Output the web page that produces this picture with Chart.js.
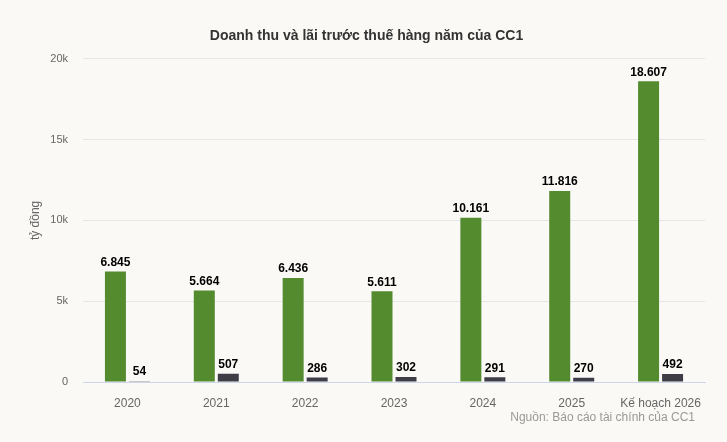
<!DOCTYPE html>
<html>
<head>
<meta charset="utf-8">
<script src="https://cdn.jsdelivr.net/npm/chart.js@4/dist/chart.umd.min.js"></script>
<style>
  html,body{margin:0;padding:0;background:#faf9f6;}
  #wrap{width:727px;height:442px;position:relative;}
</style>
</head>
<body>
<div id="wrap"><canvas id="chartCC1"></canvas></div>
<script>
// du lieu doc tu hinh
const categories = ['2020','2021','2022','2023','2024','2025','Kế hoạch 2026'];
const doanhThu   = [6845, 5664, 6436, 5611, 10161, 11816, 18607];
const laiTruocThue = [54, 507, 286, 302, 291, 270, 492];
const yTicks = [0, 5000, 10000, 15000, 20000];
const nguon = 'Nguồn: Báo cáo tài chính của CC1';

function fmtVN(v){
  return String(v).replace(/\B(?=(\d{3})+(?!\d))/g, '.');
}

// nhan gia tri tren dau cot
const valueLabels = {
  id: 'valueLabels',
  afterDatasetsDraw(chart){
    const ctx = chart.ctx;
    ctx.save();
    ctx.font = 'bold 12px "Liberation Sans", Arial, sans-serif';
    ctx.fillStyle = '#000';
    ctx.textAlign = 'center';
    ctx.textBaseline = 'bottom';
    chart.data.datasets.forEach((ds, i) => {
      chart.getDatasetMeta(i).data.forEach((bar, j) => {
        ctx.fillText(fmtVN(ds.data[j]), bar.x, bar.y - 3);
      });
    });
    ctx.restore();
  }
};

// dong nguon o goc duoi
const sourceText = {
  id: 'sourceText',
  afterDraw(chart){
    const ctx = chart.ctx;
    const a = chart.chartArea;
    ctx.save();
    ctx.font = '12px "Liberation Sans", Arial, sans-serif';
    ctx.fillStyle = '#999';
    ctx.textAlign = 'right';
    ctx.textBaseline = 'middle';
    ctx.fillText(nguon, a.right - 10, a.bottom + 36);
    ctx.restore();
  }
};

const ctx = document.getElementById('chartCC1').getContext('2d');
new Chart(ctx, {
  type: 'bar',
  data: {
    labels: categories,
    datasets: [
      {
        label: 'Doanh thu',
        data: doanhThu,
        backgroundColor: '#548b2e',
        categoryPercentage: 0.54,
        barPercentage: 0.875
      },
      {
        label: 'Lãi trước thuế',
        data: laiTruocThue,
        backgroundColor: '#3d3c47',
        categoryPercentage: 0.54,
        barPercentage: 0.875
      }
    ]
  },
  options: {
    responsive: true,
    maintainAspectRatio: false,
    animation: false,
    layout: { padding: { left: 28, right: 22, top: 0, bottom: 0 } },
    plugins: {
      legend: { display: false },
      tooltip: { enabled: false },
      title: {
        display: true,
        text: 'Doanh thu và lãi trước thuế hàng năm của CC1',
        color: '#333',
        font: { family: '"Liberation Sans", Arial, sans-serif', size: 14, weight: 'bold' },
        padding: { top: 28, bottom: 14 }
      }
    },
    scales: {
      x: {
        grid: { display: false, drawTicks: false },
        border: { color: '#ccd6eb', width: 1 },
        ticks: {
          color: '#666',
          font: { family: '"Liberation Sans", Arial, sans-serif', size: 12 },
          padding: 14,
          maxRotation: 0,
          autoSkip: false
        },
        afterFit(scale){ scale.height = 60; }
      },
      y: {
        min: 0,
        max: 20000,
        afterBuildTicks(scale){ scale.ticks = yTicks.map(v => ({ value: v })); },
        grid: { color: '#e6e6e6', drawTicks: false },
        border: { display: false },
        ticks: {
          color: '#666',
          font: { family: '"Liberation Sans", Arial, sans-serif', size: 11 },
          padding: 15,
          callback: v => v === 0 ? '0' : (v / 1000) + 'k'
        },
        title: {
          display: true,
          text: 'tỷ đồng',
          color: '#666',
          font: { family: '"Liberation Sans", Arial, sans-serif', size: 12 },
          padding: 0
        },
        afterFit(scale){ scale.width = 55; }
      }
    }
  },
  plugins: [valueLabels, sourceText]
});
</script>
</body>
</html>
